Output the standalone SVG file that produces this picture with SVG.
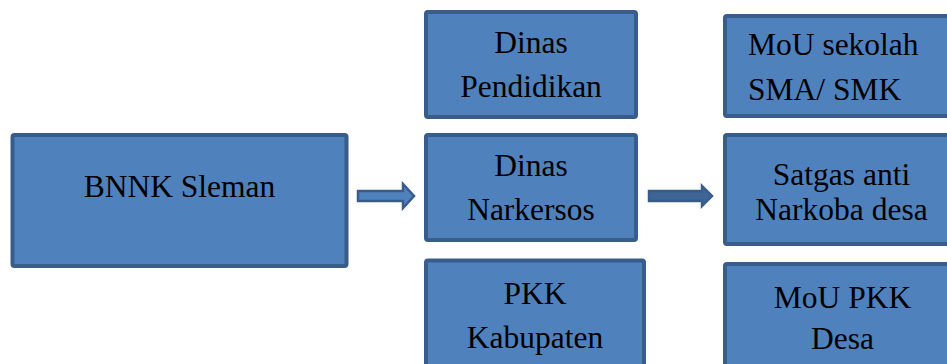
<svg xmlns="http://www.w3.org/2000/svg" width="947" height="364" viewBox="0 0 947 364">
<style>
.box{fill:#4F81BD;stroke:#385D8A;stroke-width:4}
text{font-family:'Liberation Serif',Tinos,'Times New Roman','DejaVu Serif','Noto Serif',serif;font-size:31.5px;fill:#000}
.t{text-anchor:middle}
.arr{fill:#4F81BD;stroke:#385D8A;stroke-width:2.5;stroke-linejoin:miter}
</style>
<rect width="947" height="364" fill="#fff"/>
<g id="bnnk"><rect class="box" x="12.5" y="135" width="334" height="131" rx="2"/><text class="t" x="179.5" y="197">BNNK Sleman</text></g>
<g id="dinas-pendidikan"><rect class="box" x="426" y="12" width="210" height="105" rx="2"/><text class="t" x="531" y="53">Dinas</text><text class="t" x="531" y="97">Pendidikan</text></g>
<g id="dinas-narkersos"><rect class="box" x="426" y="135" width="210" height="105" rx="2"/><text class="t" x="531" y="176">Dinas</text><text class="t" x="531" y="220">Narkersos</text></g>
<g id="pkk-kabupaten"><rect class="box" x="426" y="260.5" width="218" height="120" rx="2"/><text class="t" x="535" y="304">PKK</text><text class="t" x="535" y="348">Kabupaten</text></g>
<g id="mou-sekolah"><rect class="box" x="725" y="16" width="250" height="100" rx="2"/><text x="748" y="55">MoU sekolah</text><text x="748" y="100">SMA/ SMK</text></g>
<g id="satgas"><rect class="box" x="725" y="135" width="250" height="109" rx="2"/><text class="t" x="841.5" y="185">Satgas anti</text><text class="t" x="841.5" y="220">Narkoba desa</text></g>
<g id="mou-pkk"><rect class="box" x="725" y="264" width="250" height="120" rx="2"/><text class="t" x="842.5" y="308">MoU PKK</text><text class="t" x="842.5" y="349">Desa</text></g>
<g id="connectors">
<polygon class="arr" points="358,191 403,191 403,184 414,196 403,208 403,201 358,201"/>
<polygon class="arr" points="649,191 702,191 702,186 712,196 702,206 702,201 649,201" style="fill:#3F6596"/>
</g>
</svg>
